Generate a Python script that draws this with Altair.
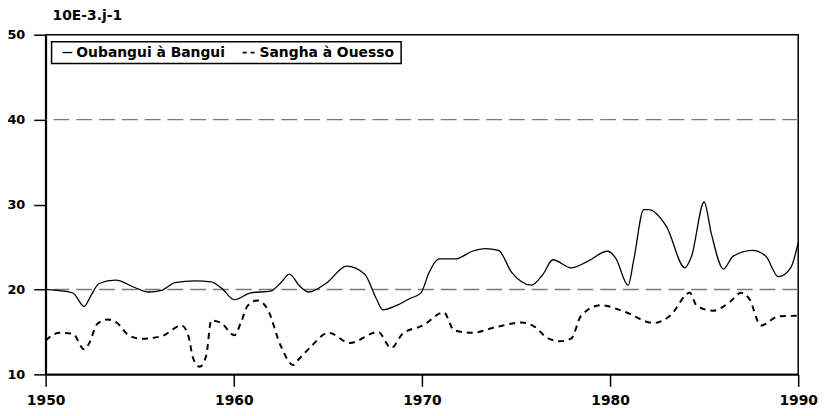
import altair as alt
import pandas as pd

# Oubangui à Bangui (solid)
oub_year = [1950.0, 1951.44, 1952.05, 1952.4, 1952.84, 1953.72, 1954.77, 1955.47, 1956.17, 1956.88,
            1957.93, 1958.8, 1959.33, 1960.03, 1960.9, 1961.96, 1962.5, 1962.96, 1963.5, 1963.98,
            1964.95, 1966.0, 1966.96, 1967.58, 1967.93, 1968.63, 1969.33, 1969.95, 1970.38, 1970.91,
            1971.79, 1972.67, 1973.37, 1974.07, 1974.77, 1975.82, 1976.44, 1976.96, 1977.93, 1978.8,
            1979.86, 1980.3, 1980.96, 1981.26, 1981.79, 1982.05, 1983.0, 1983.98, 1984.33, 1985.0,
            1985.38, 1986.03, 1986.53, 1987.58, 1988.28, 1988.95, 1989.6, 1990.0]
oub_val = [20.0, 19.6, 18.0, 19.25, 20.7, 21.1, 20.2, 19.7, 19.9, 20.8,
           21.0, 20.9, 20.2, 18.8, 19.6, 19.8, 20.8, 21.8, 20.4, 19.7,
           20.8, 22.75, 21.8, 18.9, 17.6, 18.1, 18.9, 19.6, 22.0, 23.6,
           23.6, 24.5, 24.8, 24.6, 22.0, 20.5, 21.8, 23.5, 22.55, 23.3,
           24.5, 23.7, 20.5, 23.5, 29.4, 29.4, 27.4, 22.55, 23.9, 30.3,
           26.6, 22.4, 23.9, 24.6, 23.9, 21.5, 22.55, 25.5]

# Sangha à Ouesso (dashed)
san_year = [1950.0, 1950.74, 1951.44, 1952.05, 1952.3, 1952.75, 1953.28, 1953.8, 1954.42, 1955.1,
            1956.17, 1957.23, 1957.58, 1957.84, 1958.19, 1958.54, 1958.8, 1959.33, 1960.03, 1960.38,
            1960.74, 1961.26, 1961.79, 1962.49, 1963.15, 1963.5, 1964.07, 1965.04, 1966.17, 1967.67,
            1968.37, 1968.98, 1970.04, 1971.17, 1971.7, 1972.67, 1973.9, 1975.3, 1976.0, 1976.6,
            1977.32, 1977.93, 1978.46, 1979.51, 1980.74, 1982.32, 1983.19, 1984.24, 1984.6, 1985.47,
            1986.35, 1986.96, 1987.4, 1988.02, 1988.98, 1990.0]
san_val = [14.0, 14.9, 14.8, 12.95, 13.6, 15.95, 16.45, 16.05, 14.6, 14.2,
           14.5, 15.75, 14.6, 11.9, 10.9, 12.25, 16.35, 16.05, 14.6, 16.1,
           18.1, 18.7, 17.7, 13.4, 11.1, 11.9, 13.2, 14.9, 13.7, 15.0,
           13.1, 14.8, 15.75, 17.3, 15.2, 14.9, 15.55, 16.1, 15.6, 14.4,
           13.9, 14.2, 16.9, 18.15, 17.4, 16.05, 16.9, 19.6, 18.1, 17.5,
           18.5, 19.6, 18.9, 15.75, 16.85, 16.9]

ref_levels = [20, 40]
x_ticks = [1950, 1960, 1970, 1980, 1990]
y_ticks = [10, 20, 30, 40, 50]

FONT = "DejaVu Sans"

oub = pd.DataFrame({"year": oub_year, "value": oub_val})
san = pd.DataFrame({"year": san_year, "value": san_val})
refs = pd.DataFrame({"level": ref_levels})

x_scale = alt.Scale(domain=[1950, 1990], nice=False, zero=False)
y_scale = alt.Scale(domain=[10, 50], nice=False, zero=False)

x_axis = alt.Axis(values=x_ticks, format="d", title=None, grid=False, tickSize=12,
                  tickColor="black", tickWidth=1.5, domainColor="black", domainWidth=2,
                  labelFont=FONT, labelFontWeight="bold", labelFontSize=14, labelColor="black",
                  labelPadding=7, labelFlush=False, labelOverlap=False)
y_axis = alt.Axis(values=y_ticks, title=None, grid=False, tickSize=12,
                  tickColor="black", tickWidth=1.5, domainColor="black", domainWidth=2,
                  labelFont=FONT, labelFontWeight="bold", labelFontSize=13, labelColor="black",
                  labelPadding=9, labelFlush=False, labelOverlap=False)

ref_layer = alt.Chart(refs).mark_rule(color="#7a7a7a", strokeWidth=1.5, strokeDash=[16, 7]).encode(
    y=alt.Y("level:Q", scale=y_scale, axis=y_axis)
)

oub_layer = alt.Chart(oub).mark_line(color="black", strokeWidth=1.3, interpolate="monotone").encode(
    x=alt.X("year:Q", scale=x_scale, axis=x_axis),
    y=alt.Y("value:Q", scale=y_scale, axis=y_axis),
)

san_layer = alt.Chart(san).mark_line(color="black", strokeWidth=2, strokeDash=[6, 5],
                                     interpolate="monotone").encode(
    x=alt.X("year:Q", scale=x_scale, axis=x_axis),
    y=alt.Y("value:Q", scale=y_scale, axis=y_axis),
)

one = pd.DataFrame({"d": [0]})

legend_box = alt.Chart(one).mark_rect(fill="white", stroke="black", strokeWidth=1.5).encode(
    x=alt.value(6), x2=alt.value(359), y=alt.value(7), y2=alt.value(29)
)
legend_solid = alt.Chart(one).mark_rule(color="black", strokeWidth=1.3).encode(
    x=alt.value(17), x2=alt.value(27), y=alt.value(18)
)
legend_dash = alt.Chart(one).mark_rule(color="black", strokeWidth=1.8, strokeDash=[4, 4]).encode(
    x=alt.value(199), x2=alt.value(212), y=alt.value(18)
)
legend_t1 = alt.Chart(one).mark_text(text="Oubangui à Bangui", font=FONT, fontWeight="bold",
                                     fontSize=14, align="left", baseline="middle", color="black").encode(
    x=alt.value(31), y=alt.value(18)
)
legend_t2 = alt.Chart(one).mark_text(text="Sangha à Ouesso", font=FONT, fontWeight="bold",
                                     fontSize=14, align="left", baseline="middle", color="black").encode(
    x=alt.value(216), y=alt.value(18)
)
unit_text = alt.Chart(one).mark_text(text="10E-3.j-1", font=FONT, fontWeight="bold",
                                     fontSize=14, align="left", baseline="middle", color="black").encode(
    x=alt.value(7), y=alt.value(-19)
)

chart = alt.layer(
    ref_layer, oub_layer, san_layer, legend_box, legend_solid, legend_dash, legend_t1, legend_t2, unit_text
).properties(
    width=760, height=343,
    autosize=alt.AutoSizeParams(type="none"),
    padding={"left": 38, "top": 25, "right": 21, "bottom": 34},
    background="white",
).configure_view(stroke="black", strokeWidth=1.5)

chart.save("out.html", embed_options={"renderer": "svg", "actions": False})
